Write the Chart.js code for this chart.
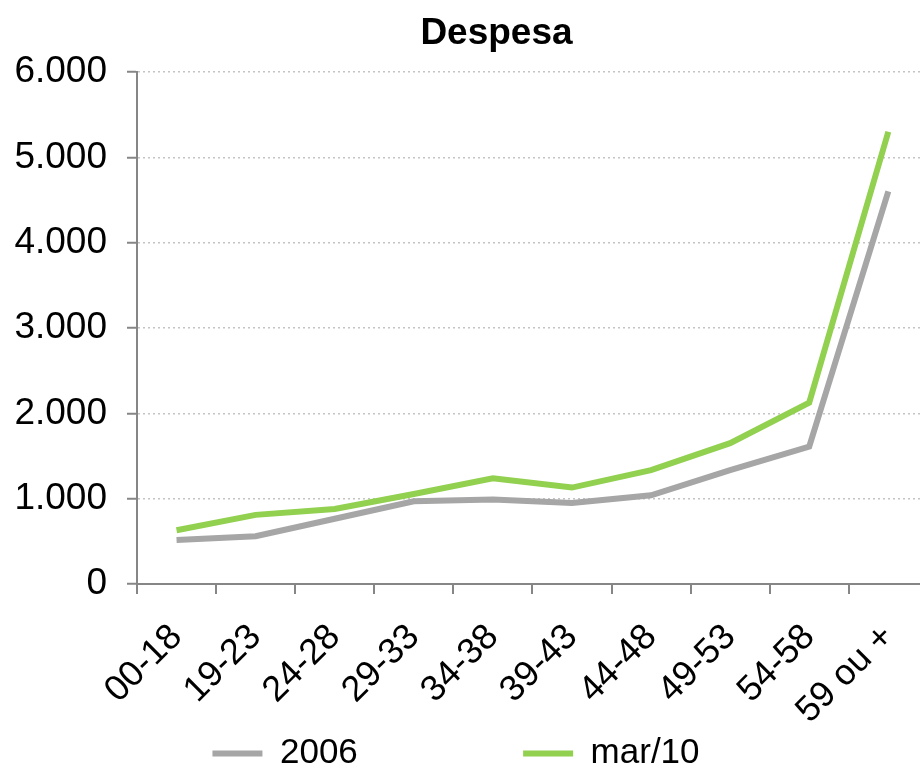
<!DOCTYPE html>
<html>
<head>
<meta charset="utf-8">
<script src="https://cdn.jsdelivr.net/npm/chart.js@4/dist/chart.umd.min.js"></script>
<style>
    html, body { margin: 0; padding: 0; background: #fff; overflow: hidden; }
    #wrap { position: relative; width: 941px; height: 768px; }
    #title {
        position: absolute; left: 0; top: 13px; width: 993px; text-align: center; line-height: 37px;
        font-family: 'Liberation Sans', Arial, sans-serif; font-weight: bold; font-size: 37px; color: #000;
    }
</style>
</head>
<body>
<div id="wrap">
    <canvas id="chart"></canvas>
    <div id="title">Despesa</div>
</div>
<script>
const categories = ['00-18', '19-23', '24-28', '29-33', '34-38', '39-43', '44-48', '49-53', '54-58', '59 ou +'];
const values2006 = [515, 560, 765, 970, 990, 950, 1040, 1335, 1610, 4600];
const valuesMar10 = [630, 810, 880, 1055, 1240, 1130, 1335, 1650, 2125, 5300];
const yTicks = [0, 1000, 2000, 3000, 4000, 5000, 6000];

const FONT = "'Liberation Sans', Arial, sans-serif";
const AXIS_COLOR = '#868686';
const LEFT_PAD = -26;

function formatThousands(value) {
    return String(value).replace(/\B(?=(\d{3})+(?!\d))/g, '.');
}

const ctx = document.getElementById('chart').getContext('2d');

new Chart(ctx, {
    type: 'line',
    data: {
        labels: categories,
        datasets: [
            {
                label: '2006',
                data: values2006,
                borderColor: '#a6a6a6',
                backgroundColor: '#a6a6a6',
                borderWidth: 6,
                pointRadius: 0,
                tension: 0,
            },
            {
                label: 'mar/10',
                data: valuesMar10,
                borderColor: '#92d050',
                backgroundColor: '#92d050',
                borderWidth: 6,
                pointRadius: 0,
                tension: 0,
            },
        ],
    },
    options: {
        responsive: true,
        maintainAspectRatio: false,
        animation: false,
        layout: {
            padding: { top: 72, right: 3, left: LEFT_PAD, bottom: -13 },
        },
        scales: {
            x: {
                offset: true,
                grid: {
                    display: true,
                    drawOnChartArea: false,
                    offset: true,
                    tickLength: 10,
                    color: AXIS_COLOR,
                    lineWidth: 2,
                },
                border: { display: true, color: AXIS_COLOR, width: 2 },
                ticks: {
                    autoSkip: false,
                    minRotation: 45,
                    maxRotation: 45,
                    padding: 22,
                    color: '#000',
                    font: { family: FONT, size: 36 },
                },
                afterFit: (scale) => {
                    scale.height = 152;
                },
            },
            y: {
                min: 0,
                max: 6000,
                afterBuildTicks: (scale) => {
                    scale.ticks = yTicks.map((v) => ({ value: v }));
                },
                grid: {
                    color: '#c4c4c4',
                    lineWidth: 1.5,
                    tickLength: 10,
                    tickColor: AXIS_COLOR,
                    tickWidth: 2,
                },
                border: { display: true, color: AXIS_COLOR, width: 2, dash: [2, 3] },
                ticks: {
                    padding: 20,
                    color: '#000',
                    font: { family: FONT, size: 37 },
                    callback: (value) => formatThousands(value),
                },
                afterFit: (scale) => {
                    scale.width = 137 - LEFT_PAD;
                },
            },
        },
        plugins: {
            title: { display: false },
            tooltip: { enabled: false },
            legend: {
                display: true,
                position: 'bottom',
                labels: {
                    boxWidth: 50,
                    boxHeight: 6,
                    padding: 0,
                    color: '#000',
                    font: { family: FONT, size: 35, lineHeight: 1 },
                    generateLabels: (chart) => chart.data.datasets.map((ds, i) => ({
                        text: i === 0 ? ds.label + '                 ' : ds.label,
                        fillStyle: ds.borderColor,
                        strokeStyle: ds.borderColor,
                        lineWidth: 0,
                        datasetIndex: i,
                        hidden: false,
                    })),
                },
            },
        },
    },
});
</script>
</body>
</html>
